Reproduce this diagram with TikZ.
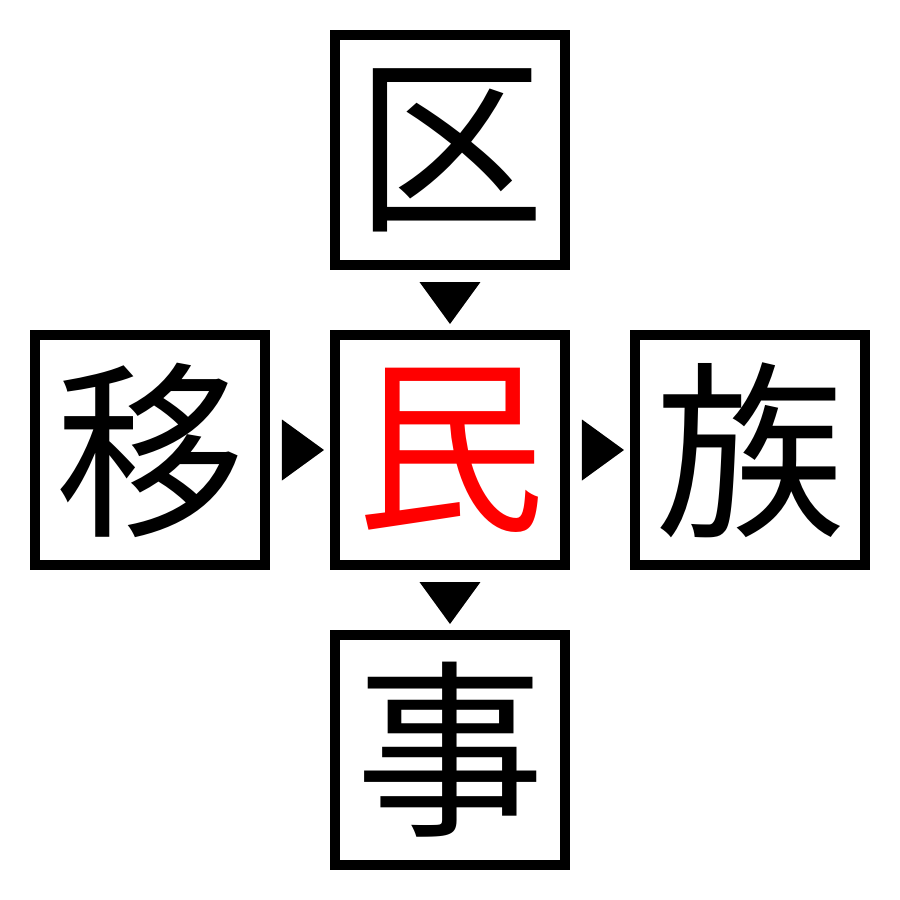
\documentclass[tikz,border=0pt]{standalone}
\usepackage{fontspec}
\newfontfamily\cjk{Noto Sans CJK JP}
\usetikzlibrary{calc}

\tikzstyle{box} = [rectangle, minimum width=2.3cm, minimum height=2.3cm, inner sep=0pt, text centered, line width=0.1cm, draw=black, fill=white, font=\cjk\fontsize{54pt}{54pt}\selectfont]
\tikzstyle{tri} = [fill=black]

\begin{document}
\begin{tikzpicture}[node distance=3cm]
        \useasboundingbox (-4.5,-4.5) rectangle (4.5,4.5);
        \node (Mid) [box, text=red] at (0,0) {民};
        \node (Top) [box, above of = Mid] {区};
        \node (Left) [box, left of = Mid] {移};
        \node (Right) [box, right of = Mid] {族};
        \node (Bottom) [box, below of = Mid] {事};

        \fill [tri] ([xshift=-0.305cm, yshift=-0.12cm]Top.south) -- ([xshift=0.305cm, yshift=-0.12cm]Top.south) -- ([yshift=0.06cm]Mid.north) -- cycle;
        \fill [tri] ([yshift=0.305cm, xshift=0.12cm]Left.east) -- ([yshift=-0.305cm, xshift=0.12cm]Left.east) -- ([xshift=-0.06cm]Mid.west) -- cycle;
        \fill [tri] ([yshift=0.305cm, xshift=0.12cm]Mid.east) -- ([yshift=-0.305cm, xshift=0.12cm]Mid.east) -- ([xshift=-0.06cm]Right.west) -- cycle;
        \fill [tri] ([xshift=-0.305cm, yshift=-0.12cm]Mid.south) -- ([xshift=0.305cm, yshift=-0.12cm]Mid.south) -- ([yshift=0.06cm]Bottom.north) -- cycle;
    \end{tikzpicture}
\end{document}
